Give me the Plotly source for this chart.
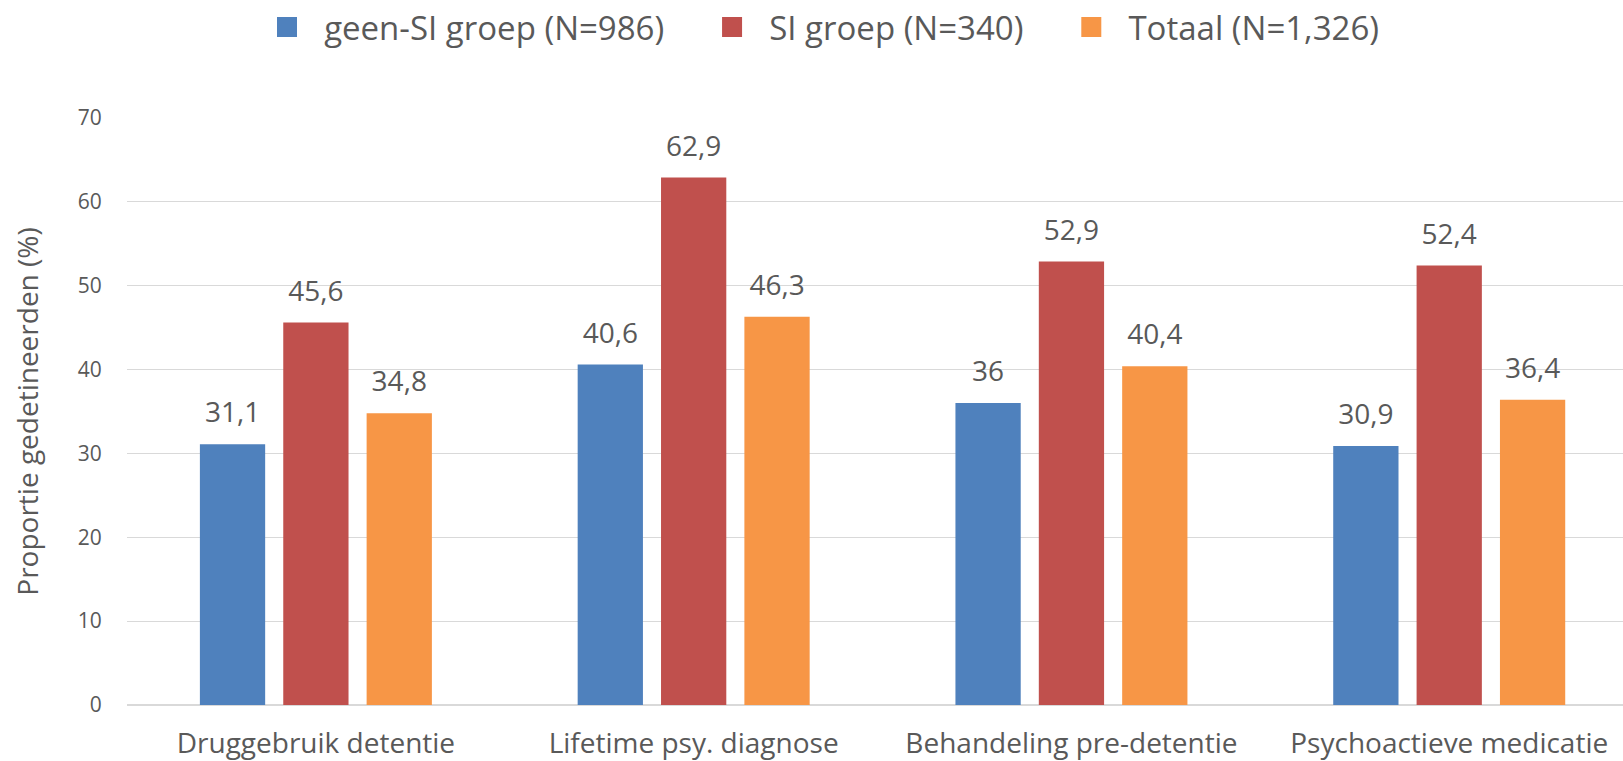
import plotly.graph_objects as go

categories = ["Druggebruik detentie", "Lifetime psy. diagnose", "Behandeling pre-detentie", "Psychoactieve medicatie"]
series_names = ["geen-SI groep (N=986)", "SI groep (N=340)", "Totaal (N=1,326)"]
geen_si = [31.1, 40.6, 36.0, 30.9]
si = [45.6, 62.9, 52.9, 52.4]
totaal = [34.8, 46.3, 40.4, 36.4]
colors = ["#4F81BD", "#C0504D", "#F79646"]
y_ticks = [0, 10, 20, 30, 40, 50, 60, 70]

TXT = "#595959"
FONT = "Open Sans"
NB = "\u00a0"
W, H = 1623, 761


def fmt(v):
    s = f"{v:g}"
    return s.replace(".", ",")


fig = go.Figure()
all_series = [geen_si, si, totaal]
for name, vals, col in zip(series_names, all_series, colors):
    fig.add_trace(go.Bar(x=categories, y=vals, name=name, marker=dict(color=col, line=dict(width=0)),
                         showlegend=False, hoverinfo="x+y"))
for name, vals, col in zip(series_names, all_series, colors):
    fig.add_trace(go.Scatter(x=categories, y=vals, mode="markers+text",
                             text=[fmt(v) for v in vals], textposition="top center",
                             textfont=dict(family=FONT, size=28, color=TXT),
                             marker=dict(size=22, opacity=0), showlegend=False,
                             hoverinfo="skip", cliponaxis=False))
# legend entries
for name, col in zip(series_names, colors):
    fig.add_trace(go.Scatter(x=[None], y=[None], mode="markers", name=NB * 2 + name + NB * 5,
                             marker=dict(symbol="square", size=16, color=col, line=dict(color=col, width=4)),
                             xaxis="x2", yaxis="y2"))

fig.update_layout(
    width=W, height=H,
    margin=dict(l=127, r=0, t=118, b=56),
    paper_bgcolor="white", plot_bgcolor="white",
    barmode="group", bargap=0.338, bargroupgap=0.217,
    scattermode="group", scattergap=0.338,
    font=dict(family=FONT, color=TXT),
    legend=dict(orientation="h", xref="container", yref="container", x=267 / W, xanchor="left",
                y=1 - 27 / H, yanchor="middle", font=dict(family=FONT, size=33, color=TXT),
                bgcolor="rgba(0,0,0,0)", itemclick=False),
    xaxis=dict(type="category", range=[-0.5, 3.46], showgrid=False, showline=False, zeroline=False,
               automargin=False, ticks="outside", ticklen=13, tickcolor="rgba(0,0,0,0)",
               tickfont=dict(family=FONT, size=28, color=TXT)),
    yaxis=dict(range=[0, 70], tickvals=y_ticks, showgrid=True, gridcolor="#D9D9D9", gridwidth=1,
               zeroline=True, zerolinecolor="#D9D9D9", zerolinewidth=2, showline=False, automargin=False,
               ticks="outside", ticklen=20, tickcolor="rgba(0,0,0,0)",
               tickfont=dict(family=FONT, size=21, color=TXT),
               title=dict(text="Proportie gedetineerden (%)", font=dict(family=FONT, size=28, color=TXT),
                          standoff=30)),
    xaxis2=dict(overlaying="x", visible=False),
    yaxis2=dict(overlaying="y", visible=False),
)

fig.write_html("out.html", config={"displayModeBar": False},
               post_script="document.body.style.margin='0';document.body.style.overflow='hidden';")
